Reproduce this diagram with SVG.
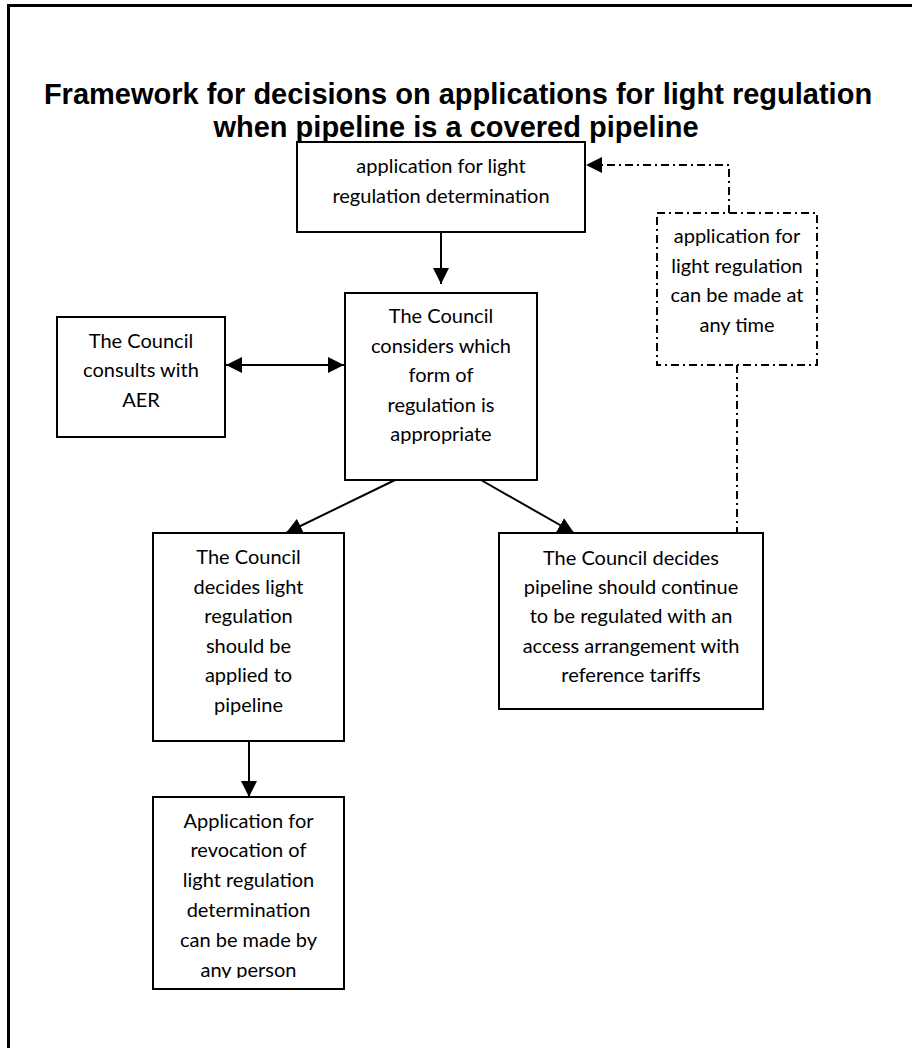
<svg xmlns="http://www.w3.org/2000/svg" width="912" height="1048" viewBox="0 0 912 1048">
<style>
.frame{fill:none;stroke:#000;stroke-width:3}
.box{fill:#fff;stroke:#000;stroke-width:2}
.dbox{fill:#fff;stroke:#000;stroke-width:2;stroke-dasharray:8 4 2 4}
.t{font-family:Lato,"Liberation Sans",sans-serif;font-size:20px;fill:#000;text-anchor:middle}
.title{font-family:"Liberation Sans",Arial,sans-serif;font-weight:bold;font-size:29px;fill:#000;text-anchor:middle}
.ln{fill:none;stroke:#000;stroke-width:2}
.dln{fill:none;stroke:#000;stroke-width:2;stroke-dasharray:8 4 2 4}
</style>
<defs>
<marker id="ah" viewBox="0 0 16 16" refX="16" refY="8" markerWidth="16" markerHeight="16" markerUnits="userSpaceOnUse" orient="auto-start-reverse">
<path d="M0,0 L16,8 L0,16 z" fill="#000"/>
</marker>
<clipPath id="clipBottom"><rect x="150" y="795" width="200" height="183"/></clipPath>
</defs>
<rect width="912" height="1048" fill="#fff"/>
<rect class="frame" x="8.5" y="5.5" width="920" height="1060"/>
<g id="title">
<text class="title" x="458" y="104">Framework for decisions on applications for light regulation</text>
<text class="title" x="456" y="137">when pipeline is a covered pipeline</text>
</g>
<g id="connectors">
<line class="ln" x1="441" y1="232" x2="441" y2="284" marker-end="url(#ah)"/>
<line class="ln" x1="226" y1="365" x2="344" y2="365" marker-start="url(#ah)" marker-end="url(#ah)"/>
<line class="ln" x1="395" y1="480" x2="286" y2="533" marker-end="url(#ah)"/>
<line class="ln" x1="481" y1="480" x2="574" y2="533" marker-end="url(#ah)"/>
<line class="ln" x1="249" y1="741" x2="249" y2="797" marker-end="url(#ah)"/>
<polyline class="dln" points="729,213 729,165 586,165" marker-end="url(#ah)"/>
<line class="dln" x1="737" y1="365" x2="737" y2="533"/>
</g>
<g id="n-application">
<rect class="box" x="297" y="142" width="288" height="90"/>
<text class="t" x="441" y="173">application for light</text>
<text class="t" x="441" y="203">regulation determination</text>
</g>
<g id="n-considers">
<rect class="box" x="345" y="293" width="192" height="187"/>
<text class="t" x="441" y="323">The Council</text>
<text class="t" x="441" y="353">considers which</text>
<text class="t" x="441" y="382">form of</text>
<text class="t" x="441" y="412">regulation is</text>
<text class="t" x="441" y="441">appropriate</text>
</g>
<g id="n-consults">
<rect class="box" x="57" y="317" width="168" height="120"/>
<text class="t" x="141" y="348">The Council</text>
<text class="t" x="141" y="377">consults with</text>
<text class="t" x="141" y="407">AER</text>
</g>
<g id="n-anytime">
<rect class="dbox" x="657" y="213" width="160" height="152"/>
<text class="t" x="737" y="243">application for</text>
<text class="t" x="737" y="273">light regulation</text>
<text class="t" x="737" y="302">can be made at</text>
<text class="t" x="737" y="332">any time</text>
</g>
<g id="n-light">
<rect class="box" x="153" y="533" width="191" height="208"/>
<text class="t" x="248.5" y="564">The Council</text>
<text class="t" x="248.5" y="593.5">decides light</text>
<text class="t" x="248.5" y="623">regulation</text>
<text class="t" x="248.5" y="652.5">should be</text>
<text class="t" x="248.5" y="682">applied to</text>
<text class="t" x="248.5" y="712">pipeline</text>
</g>
<g id="n-continue">
<rect class="box" x="499" y="533" width="264" height="176"/>
<text class="t" x="631" y="565">The Council decides</text>
<text class="t" x="631" y="594">pipeline should continue</text>
<text class="t" x="631" y="623">to be regulated with an</text>
<text class="t" x="631" y="653">access arrangement with</text>
<text class="t" x="631" y="682">reference tariffs</text>
</g>
<g id="n-revocation">
<rect class="box" x="153" y="797" width="191" height="192"/>
<g clip-path="url(#clipBottom)">
<text class="t" x="248.5" y="828">Application for</text>
<text class="t" x="248.5" y="857">revocation of</text>
<text class="t" x="248.5" y="887">light regulation</text>
<text class="t" x="248.5" y="917">determination</text>
<text class="t" x="248.5" y="947">can be made by</text>
<text class="t" x="248.5" y="977">any person</text>
</g>
</g>
</svg>
